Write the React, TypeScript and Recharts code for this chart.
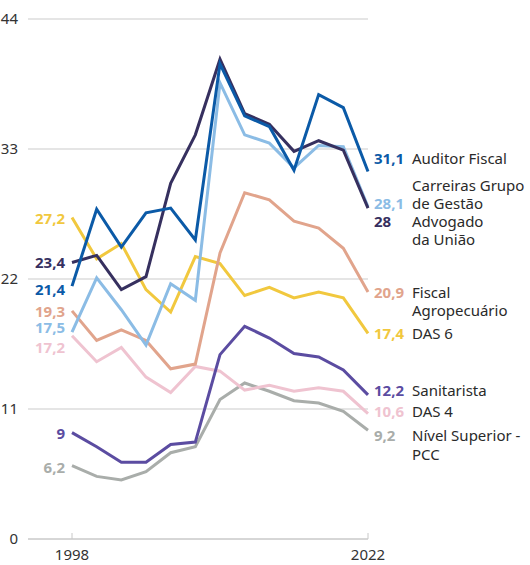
import { LineChart, Line, XAxis, YAxis, CartesianGrid } from 'recharts'

const years = [1998, 2000, 2002, 2004, 2006, 2008, 2010, 2012, 2014, 2016, 2018, 2020, 2022]

const auditorFiscal = [21.4, 27.9, 24.7, 27.6, 28.0, 25.3, 40.2, 35.8, 34.9, 31.2, 37.6, 36.5, 31.1]
const carreirasGestao = [17.5, 22.1, 19.4, 16.4, 21.6, 20.2, 38.6, 34.2, 33.5, 31.4, 33.3, 33.2, 28.1]
const advogadoUniao = [23.4, 24.0, 21.1, 22.2, 30.1, 34.2, 40.6, 36.0, 35.1, 32.8, 33.7, 32.9, 28.0]
const fiscalAgro = [19.3, 16.8, 17.7, 16.8, 14.4, 14.8, 24.2, 29.3, 28.7, 26.9, 26.3, 24.6, 20.9]
const das6 = [27.2, 23.7, 25.0, 21.1, 19.2, 23.9, 23.3, 20.6, 21.3, 20.4, 20.9, 20.4, 17.4]
const sanitarista = [9.0, 7.8, 6.5, 6.5, 8.0, 8.2, 15.6, 18.0, 17.0, 15.7, 15.4, 14.3, 12.2]
const das4 = [17.2, 15.0, 16.2, 13.7, 12.4, 14.6, 14.2, 12.6, 13.0, 12.5, 12.8, 12.5, 10.6]
const nivelSuperior = [6.2, 5.3, 5.0, 5.7, 7.3, 7.8, 11.8, 13.2, 12.5, 11.7, 11.5, 10.8, 9.2]

const yTicks = [0, 11, 22, 33, 44]
const xTicks = [1998, 2022]

// drawing order: first = bottom
const series = [
  { key: 'pcc', values: nivelSuperior, color: '#a9adaa', name: ['Nível Superior -', 'PCC'], nameDy: [0, 19], rightDy: 5, leftDy: 1 },
  { key: 'das4', values: das4, color: '#efc3d0', name: ['DAS 4'], nameDy: [0], rightDy: -3, leftDy: 11 },
  { key: 'sanit', values: sanitarista, color: '#5b4ca1', name: ['Sanitarista'], nameDy: [0], rightDy: -5, leftDy: 0 },
  { key: 'das6', values: das6, color: '#f1c83e', name: ['DAS 6'], nameDy: [0], rightDy: 0, leftDy: 0 },
  { key: 'fiscal', values: fiscalAgro, color: '#e1a48c', name: ['Fiscal', 'Agropecuário'], nameDy: [0, 18], rightDy: 0, leftDy: 0 },
  { key: 'carreiras', values: carreirasGestao, color: '#8bbce5', name: ['Carreiras Grupo', 'de Gestão'], nameDy: [-18, 0], rightDy: -4, leftDy: -5 },
  { key: 'advogado', values: advogadoUniao, color: '#36305f', name: ['Advogado', 'da União'], nameDy: [0, 18], rightDy: 13, leftDy: 0 },
  { key: 'auditor', values: auditorFiscal, color: '#0b5aa7', name: ['Auditor Fiscal'], nameDy: [0], rightDy: -13, leftDy: 3 },
]

const data = years.map((year, i) => {
  const row: Record<string, number> = { year }
  series.forEach(s => { row[s.key] = s.values[i] })
  return row
})

const fmt = (v: number) => String(v).replace('.', ',')
const FONT = '"Noto Sans", sans-serif'

function makeLabel(s: typeof series[number]) {
  const last = s.values.length - 1
  return (props: any) => {
    const { x, y, index } = props
    if (index === 0) {
      return (
        <text key={s.key + 'l'} x={x - 7} y={y + s.leftDy} textAnchor="end" dominantBaseline="central"
          fontFamily={FONT} fontSize={15} fontWeight={700} fill={s.color}>
          {fmt(s.values[0])}
        </text>
      )
    }
    if (index === last) {
      const cy = y + s.rightDy
      return (
        <g key={s.key + 'r'}>
          <text x={x + 6} y={cy} dominantBaseline="central" fontFamily={FONT} fontSize={15} fontWeight={700} fill={s.color}>
            {fmt(s.values[last])}
          </text>
          {s.name.map((line, j) => (
            <text key={j} x={x + 44} y={cy + s.nameDy[j]} dominantBaseline="central" fontFamily={FONT} fontSize={15} fill="#2a2a2a">
              {line}
            </text>
          ))}
        </g>
      )
    }
    return <g key={s.key + index} />
  }
}

function YearTick(props: any) {
  const { x, y, payload } = props
  return (
    <g>
      <line x1={x} x2={x} y1={y - 6} y2={y} stroke="#c8c8c8" />
      <text x={x} y={y + 15} textAnchor="middle" dominantBaseline="central" fontFamily={FONT} fontSize={15} fill="#333">
        {payload.value}
      </text>
    </g>
  )
}

export default function App() {
  return (
    <div style={{ position: 'absolute', left: 0, top: 0, width: 530, height: 565, background: '#fff' }}>
      <LineChart width={530} height={565} data={data} margin={{ top: 19, right: 162, left: 0, bottom: 0 }}>
        <CartesianGrid vertical={false} stroke="#dcdcdc" strokeWidth={1.5} />
        <XAxis dataKey="year" type="number" domain={[1998, 2022]} ticks={xTicks} padding={{ left: 44, right: 0 }}
          height={26} tickSize={0} tickMargin={0} stroke="#c8c8c8" tick={<YearTick />} />
        <YAxis type="number" domain={[0, 44]} ticks={yTicks} width={28} axisLine={false} tickLine={false}
          tickMargin={4} tick={{ fontFamily: FONT, fontSize: 15, fill: '#333' }} />
        {series.map(s => (
          <Line key={s.key} dataKey={s.key} stroke={s.color} strokeWidth={3} dot={false}
            isAnimationActive={false} label={makeLabel(s)} />
        ))}
      </LineChart>
    </div>
  )
}
